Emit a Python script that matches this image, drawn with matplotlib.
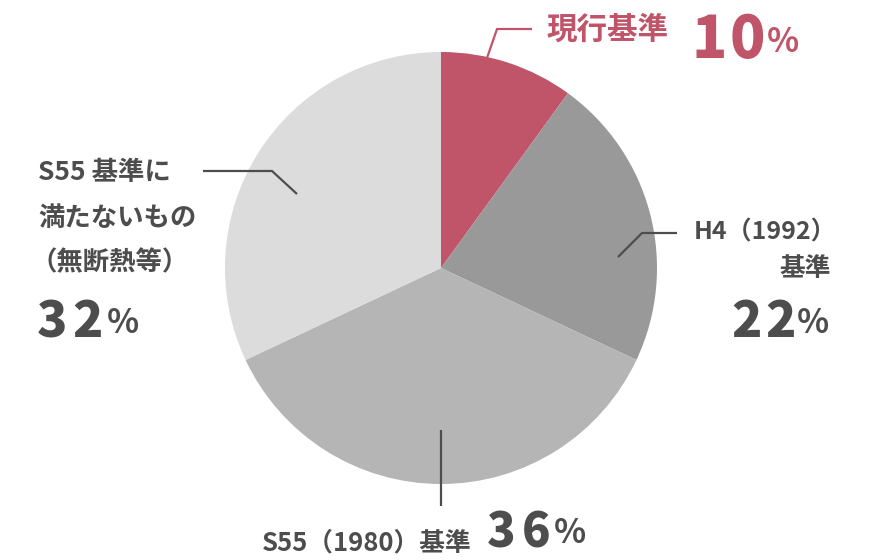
import matplotlib
matplotlib.use("Agg")
import matplotlib.pyplot as plt

plt.rcParams['font.family'] = ['Noto Sans CJK JP', 'DejaVu Sans']

categories = ["現行基準", "H4（1992）基準", "S55（1980）基準", "S55 基準に満たないもの（無断熱等）"]
values = [10, 22, 36, 32]
colors = ["#c05468", "#999999", "#b5b5b5", "#dcdcdc"]

W, H = 872, 560
fig = plt.figure(figsize=(W / 100, H / 100), dpi=100)
ax = fig.add_axes([0, 0, 1, 1])
ax.set_xlim(0, W)
ax.set_ylim(0, H)
ax.set_aspect('equal')
ax.axis('off')

def Y(y):
    return H - y

ax.pie(values, colors=colors, startangle=90, counterclock=False,
       center=(441, Y(268)), radius=216,
       wedgeprops=dict(linewidth=0))
ax.set_xlim(0, W)
ax.set_ylim(0, H)

dark = "#4d4d4d"
red = colors[0]

def line(pts, color):
    ax.plot([p[0] for p in pts], [Y(p[1]) for p in pts], color=color, lw=1.6,
            solid_capstyle='butt', zorder=5)

# leader lines
line([(487, 58), (497, 29), (532, 29)], red)
line([(618, 257), (642, 233), (677, 233)], dark)
line([(441, 430), (441, 506)], dark)
line([(203, 171), (272, 171), (297, 194)], dark)

def txt(x, y, s, size, color, ha='left', va='center'):
    ax.text(x, Y(y), s, fontsize=size, color=color, ha=ha, va=va,
            fontweight='bold')

def pct(cx0, y, v, color, pitch, pct_x, big=36, small=24, rise=4):
    # number drawn digit by digit (letter-spaced), then a small percent sign
    for i, ch in enumerate(f"{v}"):
        ax.text(cx0 + i * pitch, Y(y), ch, fontsize=big, color=color,
                ha='center', va='baseline', fontweight='black')
    ax.text(pct_x, Y(y - rise), "%", fontsize=small, color=color,
            ha='left', va='baseline', fontweight='bold')

# top red label
txt(546, 30, "現行基準", 22, red)
pct(709, 58, values[0], red, pitch=38, pct_x=767, big=42, small=24, rise=6)

# right label
txt(836, 233, "H4（1992）", 18, dark, ha='right')
txt(831, 268, "基準", 18.5, dark, ha='right')
pct(747, 337, values[1], dark, pitch=34, pct_x=797)

# bottom label
txt(262, 543, "S55（1980）基準", 18.5, dark)
pct(501, 547, values[2], dark, pitch=35.5, pct_x=554, big=34)

# left label
txt(38, 173, "S55 基準に", 19, dark)
txt(38, 218, "満たないもの", 19, dark)
txt(30, 263, "（無断熱等）", 19, dark)
pct(52, 337, values[3], dark, pitch=36, pct_x=107)

fig.savefig("out.png", dpi=100)
